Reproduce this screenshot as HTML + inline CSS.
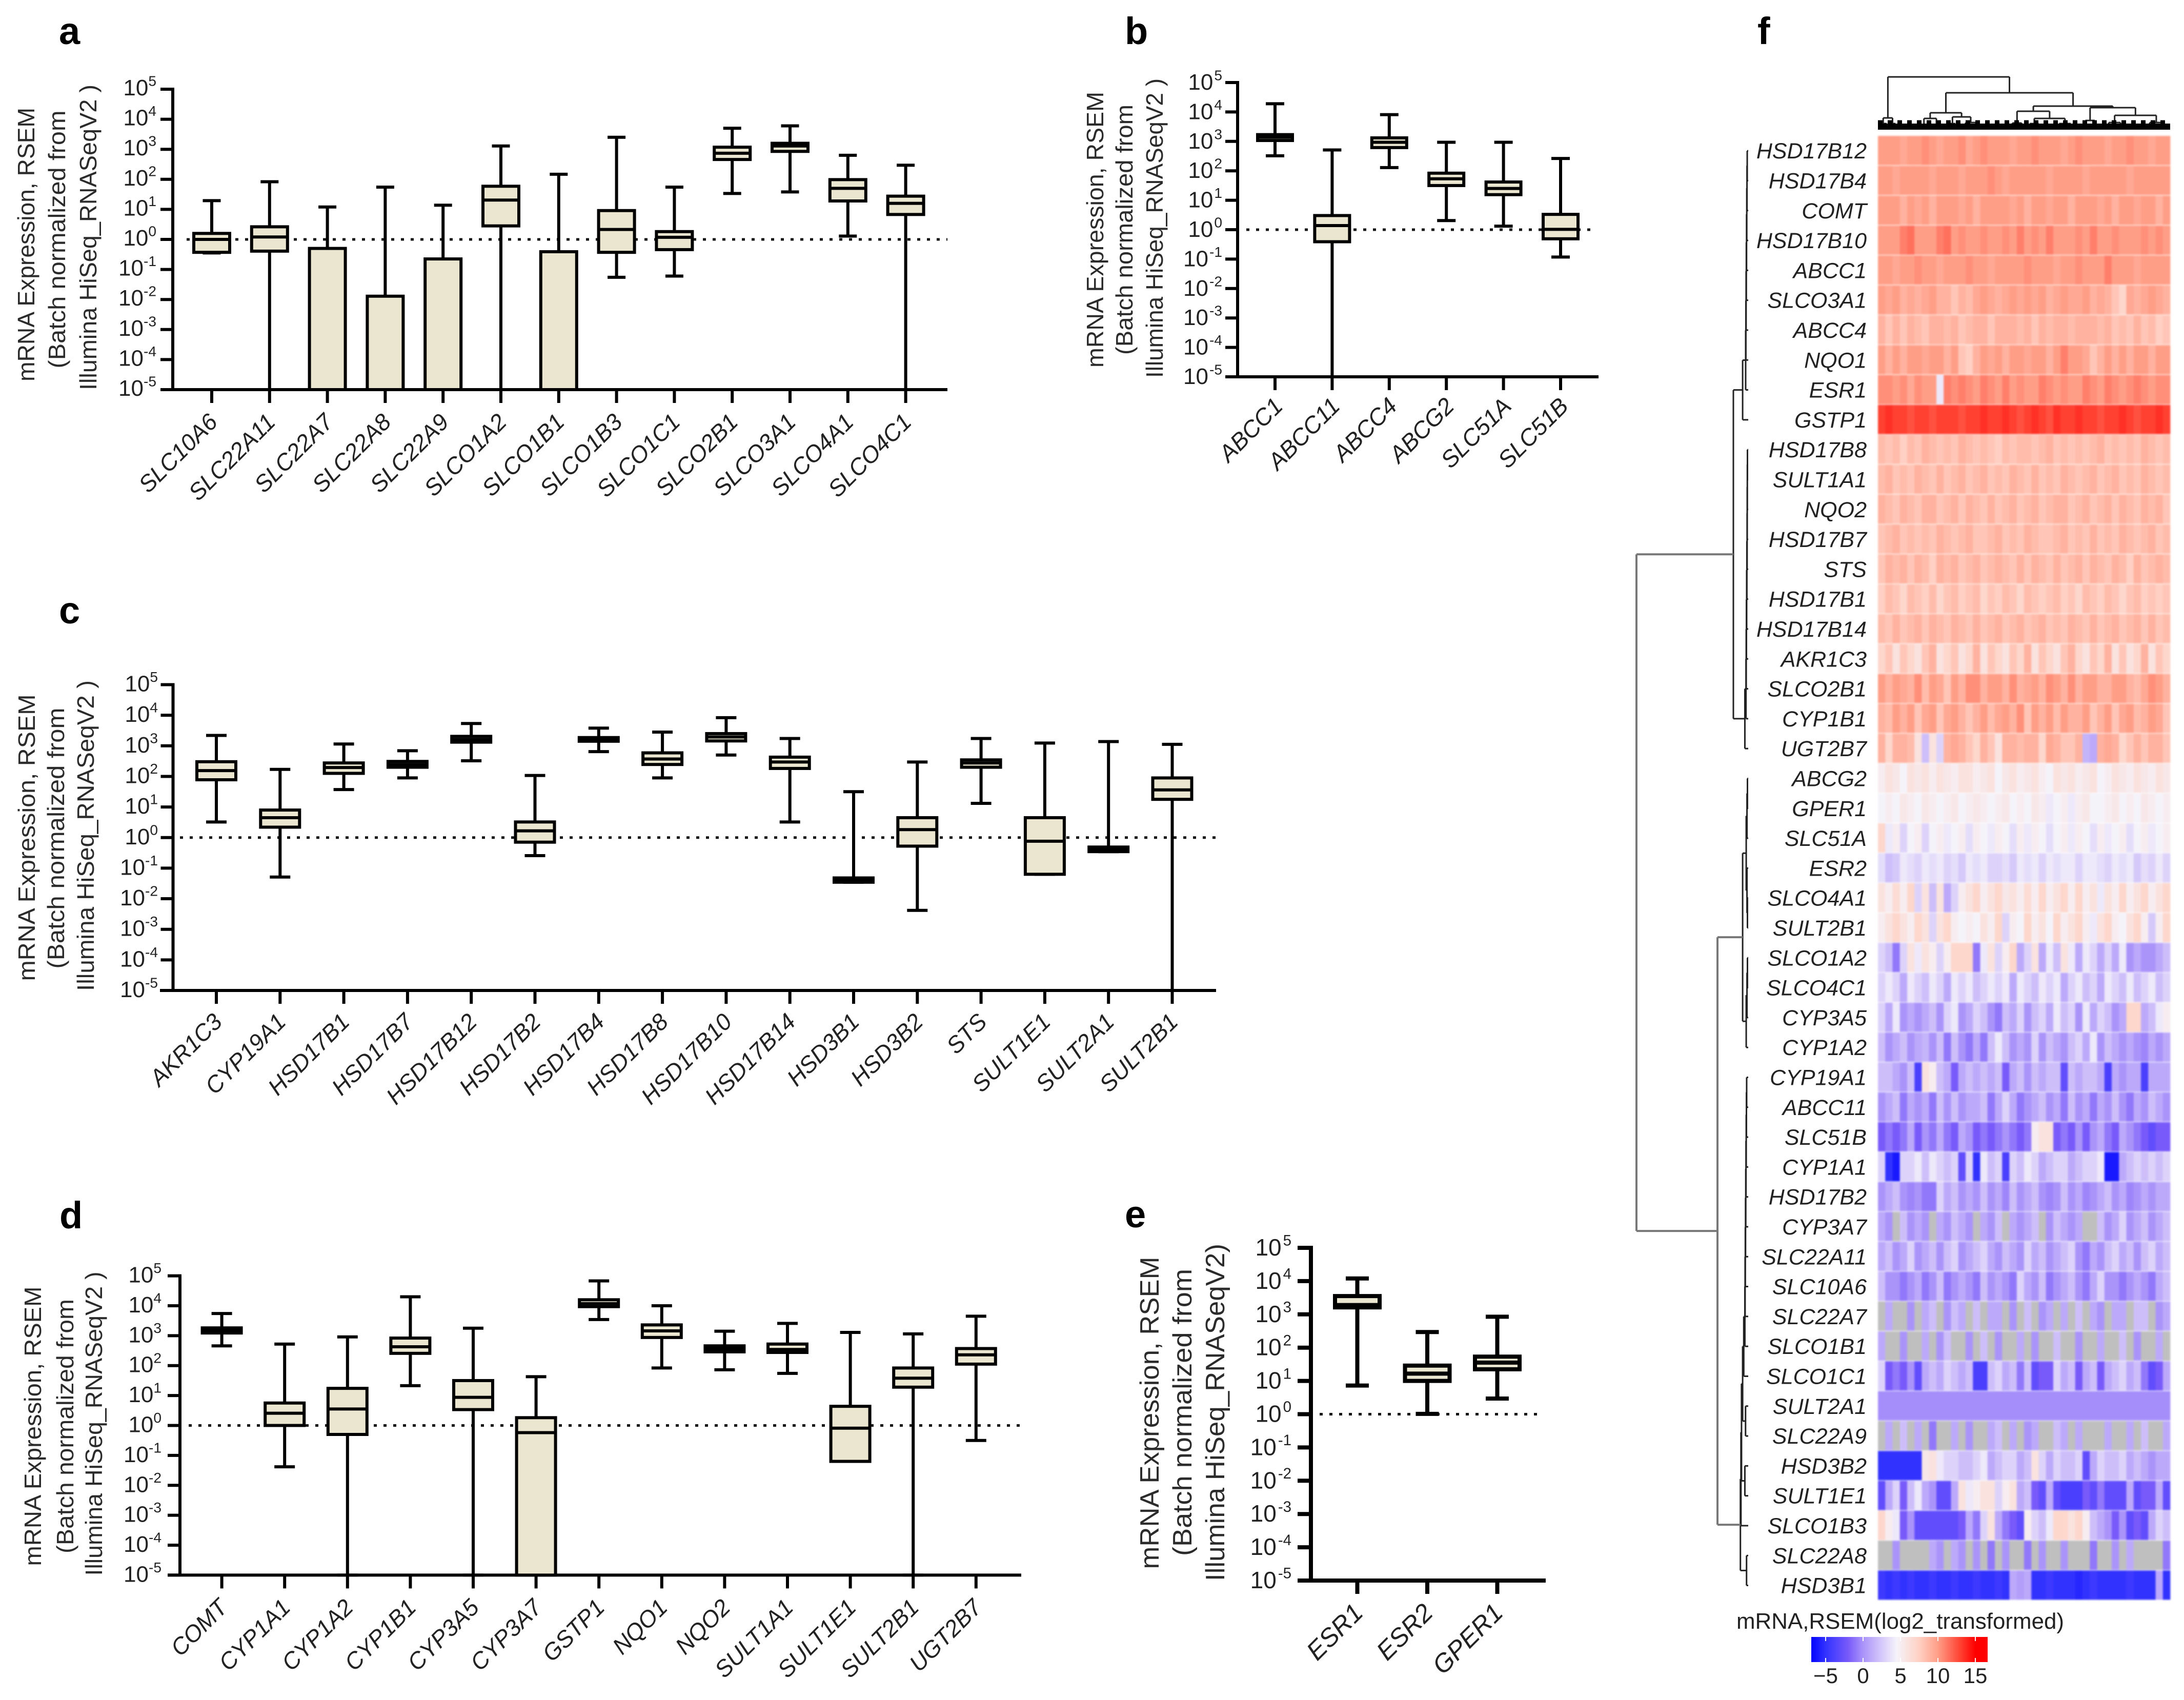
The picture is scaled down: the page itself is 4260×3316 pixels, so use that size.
<!DOCTYPE html>
<html lang="en">
<head>
<meta charset="utf-8">
<title>Expression of steroid metabolism genes</title>
<style>
html,body{margin:0;padding:0;background:#fff;width:4260px;height:3316px;overflow:hidden}
svg{display:block}
text{font-family:"Liberation Sans",sans-serif}
</style>
</head>
<body>
<svg id="fig" xmlns="http://www.w3.org/2000/svg" width="4260" height="3316" viewBox="0 0 4260 3316">
<rect x="0" y="0" width="4260" height="3316" fill="#fff"/>
<g font-weight="bold" font-size="74" fill="#000">
<text x="115" y="86">a</text>
<text x="2194" y="86">b</text>
<text x="115" y="1216">c</text>
<text x="116" y="2396">d</text>
<text x="2194" y="2394">e</text>
<text x="3428" y="86">f</text>
</g>
</svg>
<script>
// Values below are log10(mRNA expression).
const aGenes=['SLC10A6','SLC22A11','SLC22A7','SLC22A8','SLC22A9','SLCO1A2','SLCO1B1','SLCO1B3','SLCO1C1','SLCO2B1','SLCO3A1','SLCO4A1','SLCO4C1'];
const aHigh=[1.29,1.92,1.08,1.74,1.14,3.11,2.17,3.4,1.74,3.7,3.78,2.8,2.47];
const aQ3=[0.2,0.42,-0.3,-1.89,-0.65,1.77,-0.41,0.96,0.26,3.07,3.2,1.99,1.44];
const aMedian=[0,0.08,-5,-5,-5,1.31,-5,0.33,0.07,2.87,3.11,1.7,1.2];
const aQ1=[-0.43,-0.39,-5,-5,-5,0.45,-5,-0.43,-0.34,2.66,2.93,1.28,0.83];
const aLow=[-0.45,-5,-5,-5,-5,-5,-5,-1.26,-1.22,1.53,1.58,0.11,-5];

const bGenes=['ABCC1','ABCC11','ABCC4','ABCG2','SLC51A','SLC51B'];
const bHigh=[4.28,2.71,3.91,2.97,2.97,2.42];
const bQ3=[3.23,0.48,3.12,1.92,1.62,0.52];
const bMedian=[3.14,0.14,2.97,1.73,1.4,0.01];
const bQ1=[3.03,-0.41,2.79,1.5,1.19,-0.31];
const bLow=[2.51,-5,2.11,0.31,0.12,-0.93];

const cGenes=['AKR1C3','CYP19A1','HSD17B1','HSD17B7','HSD17B12','HSD17B2','HSD17B4','HSD17B8','HSD17B10','HSD17B14','HSD3B1','HSD3B2','STS','SULT1E1','SULT2A1','SULT2B1'];
const cHigh=[3.34,2.23,3.06,2.84,3.73,2.03,3.58,3.45,3.92,3.24,1.5,2.47,3.24,3.09,3.14,3.05];
const cQ3=[2.48,0.9,2.44,2.49,3.31,0.51,3.27,2.77,3.4,2.63,-1.32,0.65,2.54,0.65,-0.31,1.95];
const cMedian=[2.19,0.65,2.29,2.39,3.21,0.22,3.21,2.57,3.29,2.47,-1.39,0.26,2.44,-0.12,-0.38,1.56];
const cQ1=[1.89,0.34,2.1,2.3,3.12,-0.15,3.15,2.39,3.16,2.26,-1.46,-0.28,2.3,-1.2,-0.46,1.25];
const cLow=[0.51,-1.29,1.57,1.95,2.51,-0.59,2.81,1.95,2.7,0.51,-1.46,-2.38,1.12,-1.2,-0.46,-5];

const dGenes=['COMT','CYP1A1','CYP1A2','CYP1B1','CYP3A5','CYP3A7','GSTP1','NQO1','NQO2','SULT1A1','SULT1E1','SULT2B1','UGT2B7'];
const dHigh=[3.74,2.72,2.96,4.3,3.25,1.63,4.83,4.0,3.15,3.41,3.11,3.06,3.65];
const dQ3=[3.26,0.75,1.24,2.92,1.5,0.26,4.2,3.36,2.66,2.72,0.64,1.92,2.57];
const dMedian=[3.17,0.41,0.55,2.63,0.94,-0.24,4.07,3.16,2.56,2.54,-0.09,1.58,2.36];
const dQ1=[3.09,0,-0.3,2.41,0.53,-5,3.97,2.94,2.46,2.44,-1.2,1.28,2.05];
const dLow=[2.66,-1.38,-5,1.33,-5,-5,3.54,1.92,1.86,1.74,-1.2,-5,-0.5];

const eGenes=['ESR1','ESR2','GPER1'];
const eHigh=[4.08,2.47,2.93];
const eQ3=[3.55,1.46,1.73];
const eMedian=[3.28,1.22,1.55];
const eQ1=[3.21,1.0,1.35];
const eLow=[0.86,0.01,0.47];

const yTickExponents=[5,4,3,2,1,0,-1,-2,-3,-4,-5];

const N=null;
const heatGenes=['HSD17B12','HSD17B4','COMT','HSD17B10','ABCC1','SLCO3A1','ABCC4','NQO1','ESR1','GSTP1','HSD17B8','SULT1A1','NQO2','HSD17B7','STS','HSD17B1','HSD17B14','AKR1C3','SLCO2B1','CYP1B1','UGT2B7','ABCG2','GPER1','SLC51A','ESR2','SLCO4A1','SULT2B1','SLCO1A2','SLCO4C1','CYP3A5','CYP1A2','CYP19A1','ABCC11','SLC51B','CYP1A1','HSD17B2','CYP3A7','SLC22A11','SLC10A6','SLC22A7','SLCO1B1','SLCO1C1','SULT2A1','SLC22A9','HSD3B2','SULT1E1','SLCO1B3','SLC22A8','HSD3B1'];
const heatValues=[
[10,10,10,9.5,10,10,10.5,10,9.5,10,10,10.5,9.5,10,10.5,10,10,10,9.5,10,10,10.5,10,10,10,9.5,10,10.5,10,10,10,9.5,10,10,10.5,10,10,9.5,10,10],
[10,10,9.5,10,10,10,10,9.5,10,10,10,9.5,10,10,10,10.5,10,9.5,10,10,10,10,10,9.5,10,10,10,10,9.5,10,10,10,10,10,9.5,10,10,10,10,10],
[10,10,10,9,10,9.5,10,9,10,10,10,9.5,10,9,10,10,10,10,9.5,10,9,10,10,9.5,10,10,9,10,10,10,9.5,10,9,10,10,9.5,10,10,9,10],
[10,10,10,11,11.5,10,10,10,11,11.5,10,10.5,10,10,10.5,10,10,10.5,10,11,10,10.5,10,11,10,10,10,10.5,10,11,10,10,10.5,10,10,10,10.5,10,10.5,10],
[10,10,9.5,10,10,10.5,10,10,9.5,10,10,10,10.5,10,10,9.5,10,10,10,10,10.5,10,10,10,9.5,10,10,10.5,10,10,10,11,10,10,10,9.5,10,10,10,10],
[10,9.5,10,9,9.5,9,9.5,10,9,9,8,9,8.5,9.5,10,9.5,9,9.5,10,9.5,10,9.5,10,9,9.5,10,9.5,9.5,10,9,9.5,9,8,7,9.5,9,9.5,10,9.5,9],
[9,8,9,8,9,8.5,8,9,9,8.5,9,8,8.5,9,9,8,9,9,9,8.5,9,8,9,8.5,9,9,8.5,9,9,9,8.5,9,8,8.5,8,9,8,8.5,7.5,8],
[10,9,10,9,10,10,9.5,10,10,9,10,8,7.5,9,10,9.5,10,9,10,10,9.5,10,10,9,10,11,10,10,9.5,8,9,10,9,10,9,10,10,9,10,10],
[10.5,10.5,10,10.5,9.5,10.5,10,10,4,11,10.5,11,10.5,10,11,10.5,10,11,10,10.5,10,10,11,10.5,10,10.5,10,10,11,10.5,10,11,10.5,10,10.5,11,10.5,10,10.5,10.5],
[13,13.5,13,13,12.5,13,13,12.5,13,13,13,12.5,13,13,13.5,13,13,13.5,13,12.5,13,13.5,13,12.5,13.5,13,13,13.5,13,13,12.5,13,13,13.5,13,12.5,13,13,13.5,13],
[8.5,8,8.5,7.5,8.5,8,9,8.5,8,8.5,8,9,8.5,8,8.5,8,7.5,8.5,8,8.5,8.5,8,8.5,9,8,8.5,8,8.5,8,8.5,9,8,8.5,8,8.5,8,9,8.5,8,8.5],
[8.5,9,8,8.5,8,9,8.5,8,9,8,8.5,9,8,8.5,9,8,8.5,8,9,8.5,8,9,8,8.5,8,9,8.5,8,8.5,9,8,8.5,9,8,8.5,8,9,8.5,8,8.5],
[9,8.5,8,9,8.5,8,9,9,8,8.5,9,8,9,8.5,8,9,8,8.5,9,8,8.5,9,8,8.5,9,9,8,8.5,9,8,8.5,9,8,9,8.5,8,9,8.5,9,8],
[8,8.5,9,8,8.5,8,8.5,8,9,8.5,8,8.5,9,8,8,8.5,9,8,8.5,8,9,8.5,8,8,8.5,9,8,8.5,8,9,8,8.5,8,9,8.5,8,8.5,9,8,8.5],
[8,9,8.5,9,8,9,8.5,7.5,9,8.5,9,8,8.5,9,8,8.5,9,8.5,8,9,8,9,8.5,8,9,8,8.5,9,8,9,8.5,8,9,8.5,7.5,9,8,8.5,9,8.5],
[7.5,8.5,8,7,8.5,8,7.5,8.5,7,8,8.5,7.5,8,8.5,7,8,7.5,8.5,8,7,8.5,8,7.5,8,8.5,7.5,8,7,8.5,8,7.5,8.5,8,7,8,8.5,7.5,8,7.5,8],
[8.5,8,9,8,8.5,9,8,9,8.5,8,9,8.5,8,9,8,8.5,9,8,8.5,9,8,8.5,9,8,8.5,8,9,8.5,8,9,8,8.5,9,8,8.5,9,8,9,8,8.5],
[7,8,6,8,7,6,8,9,6,7,8,6,7,9,6,8,7,6,8,7,9,6,8,7,6,8,9,7,6,8,7,9,6,8,6,7,9,6,8,7],
[10,9,10,9.5,9,10.5,8.5,10,9.5,8,10,9,10.5,10.5,9,10,10,9,10.5,9,9.5,10,9,10.5,10,9,10.5,9,10,10,9,9,10,10,9,8.5,9.5,10.5,10,9],
[9,8.5,10,9,10,8,9.5,10,8,9.5,10,9,8,9,10,8.5,9.5,10,9,10.5,8,10,9,10,8.5,10,9,9,10,8,9,10,8,9.5,10,8.5,9,10,9.5,8],
[9,7,9,9,8.5,6,2,6,3,9,9.5,9,8,7,9,8,6,9,9,8.5,9,9,7,9.5,9,8,8,9,1.5,1,9,9.5,9,7,8,9,8,9,9,8],
[5,6,5.5,4.5,6,5.5,6,5,6,5.5,5,6,6,5,5.5,6,4.5,5.5,6,5,5.5,6,5,4.5,6,5.5,6,5,5.5,6,4.5,5,6,5.5,5,6,5.5,5,6,5.5],
[4.5,5,4.5,5.5,5,4.5,5.5,5,4.5,5,5.5,4.5,5,5.5,5,4.5,5,5.5,4.5,5,4.5,5.5,5,4,4.5,5,4,5,5.5,4.5,4.5,5,5.5,4.5,5,4.5,5.5,5,4.5,5],
[7,4,5,3,4.5,5,3,4.5,5,4,4.5,5,3.5,5,4.5,4,5,4.5,3.5,5,4,5,4.5,3.5,4.5,5,4,5,4.5,3.5,5,4,4.5,5,3.5,4.5,5,4,4.5,5],
[3.5,2,2.5,4,3.5,3,4,3.5,4,3,3.5,2.5,4,3.5,4,3,3,3.5,2.5,4,3.5,4,3,4,3.5,4,4,3,4,4,3.5,3,4,3.5,4,2.5,3.5,3,4,3],
[6,5,6.5,5,7,3,6,2,6,1,3,5,6,7,5,6,7,5.5,6,5,6.5,5,7,5,6,7,5,7,5,6,4,6,5,7,5,6,7,5,6,7],
[5,6,7,6,5,7,6,3,6,7,5,4.5,5,4.5,6,5,7,3,5,4.5,7,5,6,4.5,7,5,6,7,5,4,6,7,5,4.5,6,7,5,2.5,5,7],
[3,2,-1,3,6,4,6,5,3,5,7,7,7,-1,4,6,3,5,7,1,3,6,1,4,2,6,4,1,4,3,1,3,1,4,0,1,0,0,1,2],
[3,4,3,1,4,3,2,4,3,1,4,3,4,2,3,4,3,4,1,4,3,2,4,3,4,1,3,4,2,3,1,4,3,2,4,2,3,4,2,3],
[3,1,4,0,1,0,1,2,0,3,4,0,1,3,2,0,-1,2,1,3,0,2,3,1,4,2,3,0,4,1,3,2,0,1,7,7,1,2,4,5],
[2,0,1,2,0,1,1.5,0,2,-1,2,0,-1,1,-1,2,4,2,0,1,0,3,0,2,1,0,2,3,1,4,0,2,1,0,1,0,-0.5,1,0,1],
[2,2,1,0,2,-4,6,5,2,1,-2,1,2,1,2,1,2,-2,1,2,0,2,1,2,2,-3,2,1,2,2,1,-4,1,0,1,1,-4,1,1,1],
[0,1,2,-1,1,0,1,-1,2,0,2,0,1,1,2,-1,1,3,1,-1,0,1,2,0,1,-1,2,0,1,-1,1,0,2,0,-1,1,0,2,1,0],
[-2,-1,-2,-1,1,-2,0,-1,1,-1,-2,1,0,-2,-1,-2,-1,0,-1,-2,-1,5,6,6,-2,-1,-2,0,-2,0,1,-1,-2,1,0,-1,-2,-3,-2,-2],
[3,-5,-6,3,3,4,2,4,3,2,3,-3,3,-5,4,2,3,-4,3,2,4,3,1,2,3,3,1,2,3,3,4,-6,-6,1,2,3,2,3,2,3],
[0,1,2,0,-0.5,0,-1,-1,3,1,2,0,1,0,2,0,1,-0.5,2,0,1,2,0,-0.5,0,2,0,1,-0.5,0,1,2,0,1,-0.5,0,1,0,1,1],
[1,0,N,2,0,1,0,N,1,0,2,1,0,N,1,0,2,N,1,0,1,2,N,0,2,1,0,1,N,N,2,0,1,3,0,1,2,0,1,2],
[1,2,0,1,3,0,1,2,0,2,3,0,1,2,3,1,0,2,1,0,3,1,2,0,1,2,3,0,-1,1,0,2,3,1,2,0,2,3,1,2],
[2,0,0,-1,0,1,-1,0,2,-1,0,1,0,-1,2,0,1,0,-1,3,1,0,2,-1,0,1,2,0,-1,1,3,0,0,-1,0,1,0,-1,1,2],
[N,1,N,N,0,N,1,2,N,0,2,1,N,2,N,1,1,N,0,N,2,N,0,1,N,1,N,2,N,1,0,N,1,1,N,2,2,N,0,1],
[1,N,N,0,N,N,1,N,0,2,N,N,0,N,2,N,0,N,N,1,N,0,N,N,2,N,N,0,N,N,1,N,N,2,N,0,N,N,1,N],
[3,-2,-1,-2,0,-3,1,2,1,3,2,1,2,-4,-4,2,3,1,2,-1,2,-3,-2,-2,3,1,2,-2,1,2,-2,1,2,3,1,2,-1,-3,-2,1],
[-0.2,-0.2,-0.2,-0.2,-0.2,-0.2,-0.2,-0.2,-0.2,-0.2,-0.2,-0.2,-0.2,-0.2,-0.2,-0.2,-0.2,-0.2,-0.2,-0.2,-0.2,-0.2,-0.2,-0.2,-0.2,-0.2,-0.2,-0.2,-0.2,-0.2,-0.2,-0.2,-0.2,-0.2,-0.2,-0.2,-0.2,-0.2,-0.2,-0.2],
[N,1,N,2,N,1,N,-1,N,N,1,N,0,N,N,1,2,N,1,N,0,1,N,N,2,1,N,1,N,N,N,1,N,N,1,N,2,N,N,1],
[-5,-5,-5,-5,-5,-5,5.5,6,4,3,3,2,2,3,4,1,2,3,3,1,2,6,3,1,3,2,2,3,-3,1,3,2,2,3,1,2,1,0,1,1],
[-3,1,3,-2,2,4,1,0,-3,-3,1,6,4,5,6,6,3,5,6,1,2,-2,-3,1,-3,-4,-4,-4,-2,-3,-1,-3,-3,-3,1,-3,-2,-2,1,-3],
[7,5,4,-2,0,-3,-3,-3,-3,-3,-3,-2,1,-1,3,6,1,-1,-2,-3,5,3,2,4,7,7,6,7,5,2,1,0,-2,0,-3,-2,-3,1,3,2],
[N,N,0,N,N,N,N,1,0,N,1,0,N,0,N,-1,N,0,N,N,-1,N,0,N,N,0,N,N,N,-1,N,N,0,N,1,N,N,N,N,-1],
[-4.5,-5,-4.5,-5,-4.5,-5,-5,-4.5,-5,-5,-4.5,-5,-5,-4.5,-5,-5,-4.5,-5,1,0.5,1,-5,-5,-4.5,-5,-5,-5,-5.5,-5,-4.5,-5,-5,-5,-5,-4.5,-5,-5,-5,1,-5]
];
const colorbarTicks=[-5,0,5,10,15];

// Dendrogram trees: [height, child, child]; row leaves are indexes into heatGenes.
const rowTree=[100,
  [13.3,
    [5,[2.3,[2.1,[1.9,[1.7,[1.5,[1.3,[1.1,[0.9,0,1],2],3],4],5],6],7],8],9],
    [3,[2,[1.8,[1.6,[1.4,[1.2,[1,[0.9,[0.8,[0.7,10,11],12],13],14],15],16],17],18],19],20]],
  [27.5,
    [5,[1.8,[1.1,[0.7,21,22],23],[1.1,24,[0.7,25,26]]],[1.8,[1.1,[0.7,27,28],29],30]],
    [7,[6.5,[6,[5,[4,[3,[2.8,[2.6,[2.4,[2.2,[2,[1.8,[1.6,[1.4,31,32],33],34],35],36],37],38],39],40],41],[2.4,42,43]],[3,44,45]],46],[1.5,47,48]]]];
// Column leaves are percentages across the heatmap width.
const colTree=[103,
  [23,[12,0.6,3],[12,4,6]],
  [72,
    [33,[22,[9,15,16.5],[9,19,21]],[25,[12,[6,24,25],[6,26,27]],[14,[7,29,31],[7,33,34]]]],
    [46,
      [36,[13,46,49.2],[22,[12,52,55],[12,62,66]]],
      [43,[18,[8,70,72],[8,73,75.4]],[28,[14,[6,78,80],[6,82,84]],[14,[6,92,94],[6,96,99]]]]]]];

const svg=document.getElementById('fig');
const NS='http://www.w3.org/2000/svg';
function mk(tag,attrs,parent){
  const el=document.createElementNS(NS,tag);
  for(const k in attrs)el.setAttribute(k,attrs[k]);
  (parent||svg).appendChild(el);
  return el;
}
function seg(x1,y1,x2,y2,stroke,w,parent){
  return mk('line',{x1:x1,y1:y1,x2:x2,y2:y2,stroke:stroke,'stroke-width':w,'stroke-linecap':'butt'},parent);
}

function drawPanel(p){
  const g=mk('g',{});
  
  
  const yScale=v=>p.top+(5-v)*(p.bottom-p.top)/10;
  const xScale=i=>p.x0+i*p.dx;
  // dotted reference line at 10^0
  const dot=mk('line',{x1:p.dotFrom,x2:p.dotTo,y1:yScale(0),y2:yScale(0),stroke:'#111','stroke-width':p.dotW,'stroke-dasharray':p.dash},g);
  
  
  // y axis
  const yAxis=seg(p.axisX,p.top-p.lw/2,p.axisX,p.bottom,'#000',p.lw,g);
  
  
  yTickExponents.forEach(e=>{
    const y=yScale(e);
    const t=seg(p.axisX-p.tick,y,p.axisX,y,'#000',p.lw,g);
    
    
    const lab=mk('text',{x:p.labelRight,y:y+p.labelDy,'text-anchor':'end','font-size':p.labelFont,fill:'#222'},g);
    
    
    const base=mk('tspan',{},lab);
    base.textContent='10';
    const sup=mk('tspan',{dy:-p.labelFont*0.42,'font-size':p.labelFont*0.64,dx:p.supDx},lab);
    sup.textContent=String(e);
  });
  // x axis
  const xAxis=seg(p.xFrom,p.bottom,p.xTo,p.bottom,'#000',p.lw,g);
  
  
  p.genes.forEach((gene,i)=>{
    const x=xScale(i);
    const t=seg(x,p.bottom,x,p.bottom+p.xTick,'#000',p.lw,g);
    
    
    const ax=x+p.labDx, ay=p.bottom+p.labDy;
    const lab=mk('text',{x:ax,y:ay,'text-anchor':'end','font-size':p.geneFont,'font-style':'italic',fill:'#222',transform:'rotate(-45 '+ax+' '+ay+')'},g);
    
    
    lab.textContent=gene;
    const whisker=seg(x,yScale(p.high[i]),x,yScale(p.low[i]),'#000',p.wl,g);
    
    
    const capHi=seg(x-p.cap/2,yScale(p.high[i]),x+p.cap/2,yScale(p.high[i]),'#000',p.wl,g);
    
    
    const capLo=seg(x-p.cap/2,yScale(p.low[i]),x+p.cap/2,yScale(p.low[i]),'#000',p.wl,g);
    
    
    const box=mk('rect',{x:x-p.box/2,y:yScale(p.q3[i]),width:p.box,height:yScale(p.q1[i])-yScale(p.q3[i]),fill:'#ebe6cf',stroke:'#000','stroke-width':p.wl},g);
    
    
    const med=seg(x-p.box/2,yScale(p.median[i]),x+p.box/2,yScale(p.median[i]),'#000',p.wl,g);
    
    
  });
  // y-axis title
  const titles=['mRNA Expression, RSEM','(Batch normalized from',p.line3];
  titles.forEach((str,i)=>{
    const cx=p.titleX[i], cy=p.titleY[i];
    const tt=mk('text',{x:cx,y:cy,'text-anchor':'middle','font-size':p.titleFont,fill:'#2b2b2b',textLength:p.titleLen[i],lengthAdjust:'spacingAndGlyphs',transform:'rotate(-90 '+cx+' '+cy+')'},g);
    
    
    tt.textContent=str;
  });
}

drawPanel({genes:aGenes,high:aHigh,q3:aQ3,median:aMedian,q1:aQ1,low:aLow,
  axisX:337,top:174,bottom:760,x0:413,dx:112.8,xFrom:313,xTo:1848,dotFrom:364,dotTo:1848,
  box:70,cap:35,lw:6,wl:6,tick:24,xTick:26,dotW:5,dash:'6 13',labelRight:305,labelDy:12,labelFont:44,supDx:0,
  geneFont:45.5,labDx:14,labDy:66,titleFont:46,titleX:[67,127,188],titleY:[477,467,463],titleLen:[534,503,596],line3:'Illumina HiSeq_RNASeqV2 )'});
drawPanel({genes:bGenes,high:bHigh,q3:bQ3,median:bMedian,q1:bQ1,low:bLow,
  axisX:2414,top:161,bottom:735,x0:2487,dx:111.4,xFrom:2391,xTo:3118,dotFrom:2431,dotTo:3113,
  box:68,cap:36,lw:6,wl:6,tick:24,xTick:26,dotW:5,dash:'6 13',labelRight:2384,labelDy:14,labelFont:44,supDx:2,
  geneFont:46,labDx:18,labDy:60,titleFont:46,titleX:[2152,2209,2268],titleY:[448,448,445],titleLen:[538,488,584],line3:'Illumina HiSeq_RNASeqV2 )'});
drawPanel({genes:cGenes,high:cHigh,q3:cQ3,median:cMedian,q1:cQ1,low:cLow,
  axisX:337.5,top:1335.5,bottom:1932,x0:422,dx:124.3,xFrom:312,xTo:2372,dotFrom:351,dotTo:2372,
  box:76,cap:40,lw:6,wl:6,tick:24,xTick:26,dotW:5,dash:'6 13',labelRight:308,labelDy:13,labelFont:44,supDx:0,
  geneFont:45.5,labDx:14,labDy:64,titleFont:46,titleX:[68,125,183],titleY:[1634,1635,1630],titleLen:[559,509,606],line3:'Illumina HiSeq_RNASeqV2 )'});
drawPanel({genes:dGenes,high:dHigh,q3:dQ3,median:dMedian,q1:dQ1,low:dLow,
  axisX:351,top:2488.6,bottom:3072.4,x0:432.6,dx:122.6,xFrom:328,xTo:1992,dotFrom:368,dotTo:1992,
  box:76,cap:40,lw:6,wl:6,tick:24,xTick:26,dotW:5,dash:'6 13',labelRight:315,labelDy:13,labelFont:44,supDx:0,
  geneFont:45.5,labDx:14,labDy:66,titleFont:46,titleX:[80,143,199],titleY:[2782,2782,2777],titleLen:[545,496,593],line3:'Illumina HiSeq_RNASeqV2 )'});
drawPanel({genes:eGenes,high:eHigh,q3:eQ3,median:eMedian,q1:eQ1,low:eLow,
  axisX:2557,top:2434,bottom:3083,x0:2647.5,dx:136.5,xFrom:2531,xTo:3015,dotFrom:2574,dotTo:3011,
  box:87,cap:45,lw:8,wl:8,tick:26,xTick:26,dotW:5,dash:'6 13',labelRight:2519,labelDy:15,labelFont:46,supDx:3,
  geneFont:50,labDx:14,labDy:66,titleFont:52,titleX:[2260,2324,2388],titleY:[2756,2755,2755],titleLen:[609,560,658],line3:'Illumina HiSeq_RNASeqV2)'});

// Heatmap
const heatLeft=3663, heatRight=4233, heatTop=265, rowH=58.3;
const colorStops=[[-7,[0,0,255]],[-5,[50,50,255]],[-2,[120,90,250]],[0,[170,148,250]],[2,[205,190,250]],[4.5,[245,243,250]],[7.5,[255,208,195]],[10,[255,158,135]],[13,[255,65,50]],[15,[255,0,0]],[17,[255,0,0]]];
function colorOf(v){
  if(v===null)return '#bfbfbf';
  let a=colorStops[0],b=colorStops[colorStops.length-1];
  for(let i=0;i<colorStops.length-1;i++){
    if(v>=colorStops[i][0]&&v<=colorStops[i+1][0]){a=colorStops[i];b=colorStops[i+1];break;}
  }
  const t=(v-a[0])/((b[0]-a[0])||1);
  const c=a[1].map((q,j)=>Math.round(q+(b[1][j]-q)*t));
  return 'rgb('+c.join(',')+')';
}
const rowY=i=>heatTop+i*rowH;
const rowCenter=i=>rowY(i)+rowH/2;
const heatG=mk('g',{});


const cellsG=mk('g',{style:'filter:blur(1.5px)'},heatG);


heatGenes.forEach((gene,r)=>{
  const vals=heatValues[r];
  const cw=(heatRight-heatLeft)/vals.length;
  vals.forEach((v,c)=>{
    const cell=mk('rect',{x:heatLeft+c*cw,y:rowY(r),width:cw+0.4,height:rowH-1.2,fill:colorOf(v)},cellsG);
    
    
  });
  const lab=mk('text',{x:3641,y:rowCenter(r)+15,'text-anchor':'end','font-size':43,'font-style':'italic',fill:'#222'},heatG);
  
  
  lab.textContent=gene;
});

// Row dendrogram
const rowDendG=mk('g',{});


const rowDendX=h=>3410-h*2.18;
function drawRowNode(node){
  if(typeof node==='number')return {x:3410,y:rowCenter(node)};
  const a=drawRowNode(node[1]), b=drawRowNode(node[2]);
  const x=rowDendX(node[0]), y=(a.y+b.y)/2;
  const col=node[0]>20?'#777':'#222', w=node[0]>20?4:3;
  const v=seg(x,a.y,x,b.y,col,w,rowDendG);
  
  
  const h1=seg(x,a.y,a.x,a.y,col,w,rowDendG);
  
  
  const h2=seg(x,b.y,b.x,b.y,col,w,rowDendG);
  
  
  return {x:x,y:y};
}
drawRowNode(rowTree);

// Column dendrogram
const colDendG=mk('g',{});


const colDendY=h=>253-h;
const colDendX=p=>heatLeft+(heatRight-heatLeft)*p/100;
function drawColNode(node){
  if(typeof node==='number')return {x:colDendX(node),y:245};
  const a=drawColNode(node[1]), b=drawColNode(node[2]);
  const y=colDendY(node[0]), x=(a.x+b.x)/2;
  const h=seg(a.x,y,b.x,y,'#222',3,colDendG);
  
  
  const v1=seg(a.x,y,a.x,a.y,'#222',3,colDendG);
  
  
  const v2=seg(b.x,y,b.x,b.y,'#222',3,colDendG);
  
  
  return {x:x,y:y};
}
drawColNode(colTree);
const band=seg(heatLeft,247,heatRight,247,'#000',12,colDendG);


const teeth=mk('line',{x1:heatLeft,x2:heatRight,y1:238,y2:238,stroke:'#000','stroke-width':7,'stroke-dasharray':'9 10'},colDendG);



// Colour legend
const legend=mk('g',{});


const legendTitle=mk('text',{x:3387,y:3177,'font-size':44,fill:'#222',textLength:639,lengthAdjust:'spacingAndGlyphs'},legend);


legendTitle.textContent='mRNA,RSEM(log2_transformed)';
const legendX=v=>3634+14.6*v;
const defs=mk('defs',{},legend);
const grad=mk('linearGradient',{id:'barGrad',gradientUnits:'userSpaceOnUse',x1:legendX(-7),x2:legendX(16.6),y1:0,y2:0},defs);
colorStops.forEach(s=>{
  mk('stop',{offset:Math.min(1,(s[0]+7)/23.6),'stop-color':colorOf(s[0])},grad);
});
const bar=mk('rect',{x:3533,y:3193,width:344,height:49,fill:'url(#barGrad)'},legend);


colorbarTicks.forEach(v=>{
  const x=legendX(v);
  const t1=seg(x,3193,x,3201,'#fff',2,legend);
  
  
  const t2=seg(x,3234,x,3242,'#fff',2,legend);
  
  
  const lab=mk('text',{x:x,y:3283,'text-anchor':'middle','font-size':42,fill:'#222'},legend);
  
  
  lab.textContent=String(v).replace('-','\u2212');
});
</script>
</body>
</html>
